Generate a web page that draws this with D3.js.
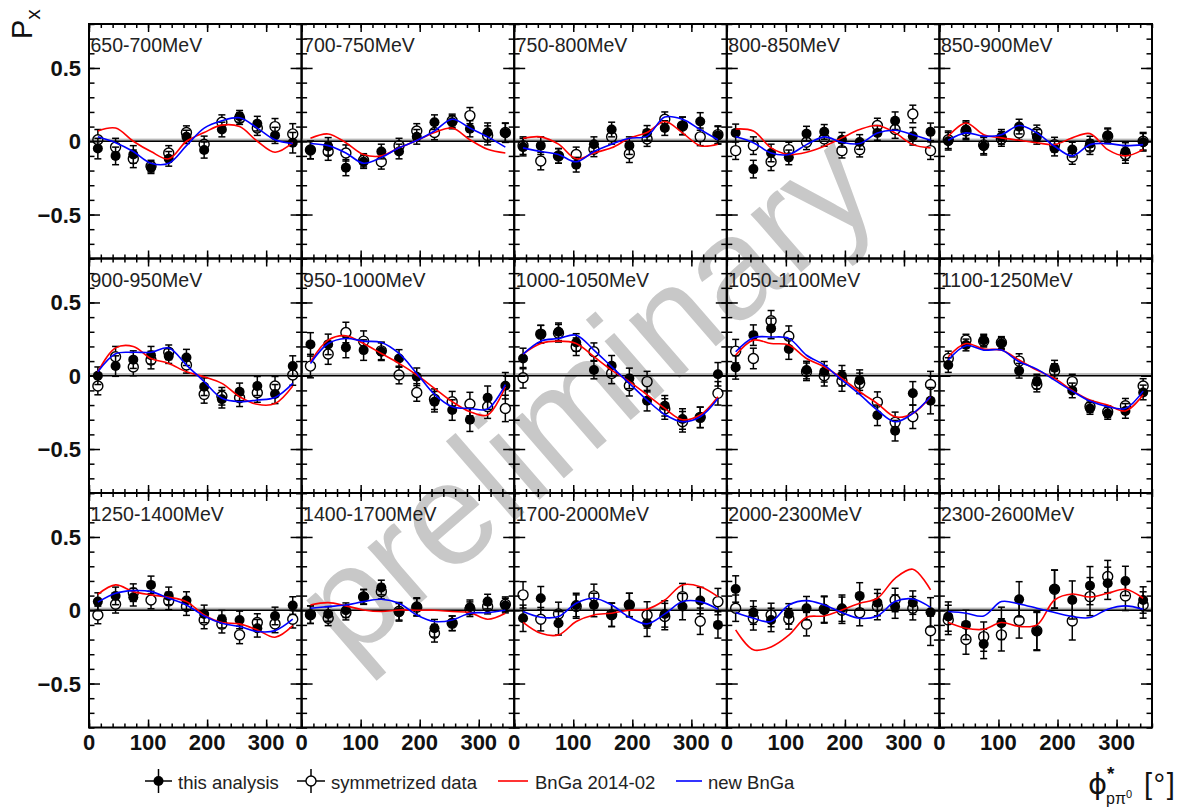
<!DOCTYPE html>
<html>
<head>
<meta charset="utf-8">
<title>Px preliminary</title>
<script src="https://d3js.org/d3.v7.min.js"></script>
<style>
body { margin: 0; background: #fff; }
text { font-family: "Liberation Sans", Arial, sans-serif; }
</style>
</head>
<body>
<div id="container"></div>
<script>
//*******************
// data
//*******************
const phi = [15, 45, 75, 105, 135, 165, 195, 225, 255, 285, 315, 345];

const energyBins = ["650-700MeV", "700-750MeV", "750-800MeV", "800-850MeV", "850-900MeV",
  "900-950MeV", "950-1000MeV", "1000-1050MeV", "1050-1100MeV", "1100-1250MeV",
  "1250-1400MeV", "1400-1700MeV", "1700-2000MeV", "2000-2300MeV", "2300-2600MeV"];

// this analysis (filled points)
const thisAnalysis = [
  [-0.05, -0.10, -0.09, -0.18, -0.12, 0.03, -0.06, 0.08, 0.17, 0.12, 0.04, -0.01],
  [-0.06, -0.035, -0.18, -0.14, -0.07, -0.07, 0.03, 0.13, 0.13, 0.085, 0.06, 0.057],
  [-0.04, -0.03, -0.10, -0.16, -0.02, 0.08, -0.03, 0.057, 0.09, 0.105, 0.135, 0.04],
  [0.057, -0.19, -0.08, -0.11, 0.052, 0.064, 0.01, -0.005, 0.057, 0.14, 0.034, 0.064],
  [0.0, 0.08, -0.034, 0.03, 0.10, 0.03, -0.05, -0.057, -0.016, 0.04, -0.07, -0.007],
  [0.0, 0.066, 0.11, 0.14, 0.134, 0.125, -0.075, -0.16, -0.11, -0.07, -0.125, 0.066],
  [0.214, 0.214, 0.193, 0.175, 0.164, 0.118, -0.007, -0.177, -0.234, -0.30, -0.15, -0.068],
  [0.118, 0.284, 0.30, 0.227, 0.039, 0.068, -0.018, -0.17, -0.205, -0.295, -0.284, 0.01],
  [0.057, 0.277, 0.323, 0.182, 0.039, 0.027, 0.0, -0.03, -0.27, -0.375, -0.12, -0.17],
  [0.073, 0.21, 0.243, 0.22, 0.034, -0.04, 0.055, -0.10, -0.223, -0.257, -0.24, -0.114],
  [0.059, 0.098, 0.089, 0.173, 0.098, 0.066, -0.025, -0.061, -0.066, -0.123, -0.039, 0.032],
  [-0.03, -0.025, 0.0, 0.093, 0.155, -0.014, 0.025, -0.123, -0.089, 0.02, 0.059, 0.032],
  [-0.055, 0.082, -0.089, 0.036, 0.036, -0.032, 0.036, -0.089, -0.025, 0.025, 0.066, -0.10],
  [0.145, -0.016, -0.066, -0.025, 0.014, 0.002, 0.014, 0.098, 0.052, 0.025, 0.052, -0.014],
  [-0.043, -0.10, -0.23, -0.089, 0.075, -0.145, 0.145, 0.07, 0.168, 0.184, 0.20, 0.07]
];

// error bars (same size read for both data sets)
const errors = [
  [0.07, 0.06, 0.06, 0.04, 0.05, 0.045, 0.055, 0.05, 0.04, 0.05, 0.055, 0.07],
  [0.06, 0.06, 0.055, 0.045, 0.05, 0.05, 0.05, 0.05, 0.045, 0.055, 0.065, 0.065],
  [0.06, 0.06, 0.05, 0.05, 0.05, 0.05, 0.06, 0.05, 0.05, 0.06, 0.06, 0.06],
  [0.06, 0.06, 0.06, 0.05, 0.05, 0.05, 0.05, 0.05, 0.05, 0.06, 0.06, 0.06],
  [0.06, 0.06, 0.06, 0.05, 0.05, 0.05, 0.05, 0.05, 0.05, 0.05, 0.06, 0.06],
  [0.06, 0.07, 0.06, 0.06, 0.05, 0.055, 0.06, 0.06, 0.06, 0.065, 0.065, 0.07],
  [0.08, 0.07, 0.07, 0.07, 0.06, 0.06, 0.06, 0.07, 0.07, 0.08, 0.08, 0.09],
  [0.07, 0.06, 0.06, 0.06, 0.06, 0.07, 0.07, 0.07, 0.07, 0.07, 0.07, 0.08],
  [0.08, 0.07, 0.07, 0.07, 0.06, 0.07, 0.07, 0.07, 0.07, 0.07, 0.08, 0.09],
  [0.05, 0.04, 0.04, 0.04, 0.05, 0.05, 0.05, 0.05, 0.04, 0.04, 0.05, 0.05],
  [0.06, 0.06, 0.06, 0.06, 0.06, 0.06, 0.06, 0.06, 0.06, 0.06, 0.06, 0.06],
  [0.06, 0.05, 0.05, 0.05, 0.05, 0.06, 0.06, 0.06, 0.05, 0.05, 0.05, 0.05],
  [0.09, 0.08, 0.08, 0.08, 0.08, 0.08, 0.08, 0.09, 0.09, 0.09, 0.09, 0.09],
  [0.09, 0.08, 0.08, 0.07, 0.08, 0.09, 0.09, 0.09, 0.09, 0.08, 0.08, 0.10],
  [0.10, 0.10, 0.10, 0.11, 0.12, 0.13, 0.13, 0.13, 0.13, 0.11, 0.10, 0.09]
];

// symmetrized data (open points)
const symmetrized = [
  [0.01, -0.04, -0.12, -0.17, -0.08, 0.06, -0.02, 0.13, 0.155, 0.09, 0.10, 0.05],
  [-0.06, -0.07, -0.08, -0.13, -0.14, -0.03, 0.07, 0.06, 0.14, 0.175, 0.04, 0.06],
  [-0.03, -0.135, -0.10, -0.09, -0.055, 0.03, -0.085, 0.015, 0.15, 0.105, 0.03, 0.045],
  [-0.064, -0.03, -0.14, -0.057, -0.007, 0.016, -0.064, -0.057, 0.107, 0.08, 0.186, -0.064],
  [0.01, 0.07, -0.025, 0.016, 0.057, 0.06, -0.023, -0.107, -0.04, 0.034, -0.09, 0.0],
  [-0.07, 0.13, 0.06, 0.107, 0.16, 0.073, -0.127, -0.14, -0.15, -0.116, -0.07, 0.005],
  [0.066, 0.148, 0.295, 0.236, 0.17, 0.005, -0.114, -0.16, -0.177, -0.193, -0.211, -0.223],
  [-0.014, 0.284, 0.29, 0.198, 0.164, 0.016, -0.068, -0.04, -0.227, -0.314, -0.284, -0.12],
  [0.168, 0.118, 0.375, 0.27, 0.027, 0.0, -0.036, -0.052, -0.18, -0.318, -0.28, -0.06],
  [0.118, 0.243, 0.236, 0.227, 0.10, -0.06, 0.032, -0.04, -0.21, -0.245, -0.205, -0.07],
  [-0.032, 0.041, 0.12, 0.07, 0.064, 0.025, -0.066, -0.095, -0.168, -0.084, -0.093, -0.061],
  [-0.03, -0.055, -0.016, 0.09, 0.127, -0.007, 0.02, -0.157, -0.089, 0.007, 0.025, 0.041],
  [0.105, -0.061, -0.025, 0.025, 0.098, -0.03, 0.036, -0.032, -0.043, 0.093, -0.075, 0.059],
  [0.014, -0.055, -0.032, -0.059, -0.095, 0.007, 0.0, -0.016, 0.025, 0.07, 0.014, -0.14],
  [-0.066, -0.20, -0.18, -0.168, -0.07, -0.14, 0.143, -0.073, 0.093, 0.23, 0.098, 0.036]
];

// BnGa 2014-02 curve, read at the phi bins
const bnga2014 = [
  [0.07, 0.09, 0.0, -0.07, -0.12, 0.0, 0.06, 0.11, 0.10, 0.0, -0.075, -0.01],
  [0.02, 0.05, -0.01, -0.09, -0.10, -0.045, 0.005, 0.06, 0.09, 0.01, -0.055, -0.08],
  [0.02, 0.03, -0.02, -0.12, -0.08, -0.045, 0.02, 0.06, 0.135, 0.057, -0.03, -0.02],
  [0.084, 0.07, -0.045, -0.09, -0.075, -0.034, 0.023, 0.08, 0.107, 0.057, -0.023, -0.045],
  [0.034, 0.125, 0.045, 0.023, 0.007, -0.01, -0.023, 0.023, 0.052, -0.057, -0.10, -0.057],
  [0.027, 0.19, 0.20, 0.118, 0.084, 0.027, -0.007, -0.052, -0.143, -0.195, -0.19, -0.07],
  [0.095, 0.243, 0.273, 0.22, 0.152, 0.084, 0.005, -0.086, -0.177, -0.245, -0.268, -0.075],
  [0.148, 0.22, 0.236, 0.22, 0.13, 0.039, -0.04, -0.13, -0.223, -0.30, -0.268, -0.143],
  [0.14, 0.243, 0.22, 0.21, 0.118, 0.061, -0.018, -0.109, -0.19, -0.28, -0.257, -0.143],
  [0.13, 0.22, 0.182, 0.175, 0.107, 0.039, -0.018, -0.10, -0.166, -0.20, -0.24, -0.13],
  [0.109, 0.173, 0.127, 0.105, 0.089, 0.059, -0.032, -0.084, -0.093, -0.134, -0.184, -0.105],
  [0.036, 0.052, 0.03, 0.002, -0.009, 0.002, 0.0, 0.0, -0.009, -0.016, -0.061, -0.02],
  [-0.082, -0.157, -0.168, -0.077, -0.032, -0.02, 0.0, 0.007, 0.07, 0.173, 0.161, 0.093],
  [-0.134, -0.27, -0.25, -0.17, -0.048, -0.039, 0.002, 0.048, 0.082, 0.218, 0.28, 0.139],
  [-0.084, -0.123, -0.13, -0.084, -0.11, -0.10, 0.07, 0.111, 0.09, 0.116, 0.143, 0.082]
];

// new BnGa curve, read at the phi bins
const newBnga = [
  [0.03, -0.01, -0.07, -0.15, -0.15, -0.03, 0.09, 0.14, 0.16, 0.09, 0.01, -0.016],
  [-0.015, -0.03, -0.08, -0.15, -0.11, -0.045, 0.005, 0.07, 0.15, 0.09, 0.03, -0.04],
  [-0.045, -0.07, -0.09, -0.14, -0.07, -0.02, 0.02, 0.035, 0.165, 0.15, 0.08, 0.01],
  [0.03, -0.01, -0.08, -0.09, -0.023, 0.03, -0.007, -0.016, 0.057, 0.075, 0.045, 0.007],
  [0.007, 0.057, 0.034, 0.045, 0.107, 0.057, -0.034, -0.10, -0.023, -0.016, -0.03, -0.023],
  [0.027, 0.15, 0.16, 0.16, 0.19, 0.073, -0.04, -0.154, -0.177, -0.166, -0.148, -0.052],
  [0.084, 0.22, 0.254, 0.236, 0.227, 0.152, 0.016, -0.127, -0.211, -0.223, -0.227, -0.06],
  [0.148, 0.236, 0.254, 0.277, 0.175, 0.061, -0.052, -0.166, -0.264, -0.314, -0.28, -0.155],
  [0.164, 0.26, 0.264, 0.255, 0.14, 0.073, -0.03, -0.127, -0.234, -0.314, -0.257, -0.143],
  [0.107, 0.205, 0.175, 0.175, 0.095, 0.045, -0.03, -0.105, -0.173, -0.211, -0.223, -0.105],
  [0.055, 0.116, 0.134, 0.127, 0.082, 0.036, -0.039, -0.089, -0.111, -0.145, -0.139, -0.061],
  [0.014, 0.025, 0.036, 0.059, 0.075, 0.048, -0.032, -0.077, -0.066, -0.02, -0.016, 0.0],
  [-0.009, -0.048, -0.043, 0.048, 0.082, 0.036, -0.048, -0.093, -0.025, 0.059, 0.059, 0.007],
  [-0.016, -0.055, -0.077, 0.036, 0.066, 0.036, -0.016, -0.055, -0.039, 0.059, 0.077, 0.02],
  [-0.009, -0.02, -0.039, 0.059, 0.043, 0.014, -0.016, -0.043, -0.05, 0.007, 0.03, 0.007]
];

const xTickValues = [0, 100, 200, 300];
const yTickValues = [-0.5, 0, 0.5];
const yTickLabels = ["\u22120.5", "0", "0.5"];
const legendLabels = ["this analysis", "symmetrized data", "BnGa 2014-02", "new BnGa"];

//*******************
// setup svg
//*******************
const width = 1185, height = 811;
const plotLeft = 89, plotTop = 24, pw = 212.6, ph = 234.5;
const ncol = 5;

const svg = d3.select("#container").append("svg")
  .attr("width", width)
  .attr("height", height);

svg.append("rect").attr("width", width).attr("height", height).attr("fill", "#fff");

const x = d3.scaleLinear().domain([0, 360]).range([0, pw]);
const y = d3.scaleLinear().domain([-0.8, 0.8]).range([ph, 0]);

const yMinor = d3.range(-8, 9).map(v => v / 10);
const xMinor = d3.range(0, 361, 20);

// watermark, behind everything
svg.append("text")
  .attr("transform", "translate(617,432) rotate(-41)")
  .attr("text-anchor", "middle")
  .style("font-size", "145px")
  .attr("fill", "#c8c8c8")
  .text("preliminary");

const curve = d3.line()
  .x((d, i) => x(phi[i]))
  .y(d => y(d))
  .curve(d3.curveCatmullRom.alpha(0.5));

const R = 5;   // marker radius
const cap = 3.5;

function tickAxis(g, axis, vals, size) {
  g.call(axis.tickValues(vals).tickSize(size).tickFormat(""))
    .call(a => a.select(".domain").remove())
    .selectAll("line").attr("stroke", "#000").attr("stroke-width", 1.5);
}

//*******************
// draw panels
//*******************
energyBins.forEach(function(label, k) {
  const col = k % ncol, row = Math.floor(k / ncol);
  const g = svg.append("g")
    .attr("transform", "translate(" + (plotLeft + col * pw) + "," + (plotTop + row * ph) + ")");

  // gray band + zero line
  g.append("rect")
    .attr("x", 0).attr("width", pw)
    .attr("y", y(0.018)).attr("height", y(0) - y(0.018))
    .attr("fill", "#b9b9b9");
  g.append("line")
    .attr("x1", 0).attr("x2", pw)
    .attr("y1", y(0)).attr("y2", y(0))
    .attr("stroke", "#000").attr("stroke-width", 1.6);

  // ticks on all four sides, pointing inward
  tickAxis(g.append("g"), d3.axisRight(y), yMinor, 5.5);
  tickAxis(g.append("g"), d3.axisRight(y), yTickValues, 11);
  tickAxis(g.append("g").attr("transform", "translate(" + pw + ",0)"), d3.axisLeft(y), yMinor, 5.5);
  tickAxis(g.append("g").attr("transform", "translate(" + pw + ",0)"), d3.axisLeft(y), yTickValues, 11);
  tickAxis(g.append("g"), d3.axisBottom(x), xMinor, 4);
  tickAxis(g.append("g"), d3.axisBottom(x), xTickValues, 8);
  tickAxis(g.append("g").attr("transform", "translate(0," + ph + ")"), d3.axisTop(x), xMinor, 4);
  tickAxis(g.append("g").attr("transform", "translate(0," + ph + ")"), d3.axisTop(x), xTickValues, 8);

  const err = errors[k];

  // filled points with error bars
  const filled = g.append("g");
  thisAnalysis[k].forEach(function(v, i) {
    const cx = x(phi[i]), y1 = y(v + err[i]), y2 = y(v - err[i]);
    filled.append("line").attr("x1", cx).attr("x2", cx).attr("y1", y1).attr("y2", y2)
      .attr("stroke", "#000").attr("stroke-width", 1.5);
    [y1, y2].forEach(yy => filled.append("line")
      .attr("x1", cx - cap).attr("x2", cx + cap).attr("y1", yy).attr("y2", yy)
      .attr("stroke", "#000").attr("stroke-width", 1.5));
    filled.append("circle").attr("cx", cx).attr("cy", y(v)).attr("r", R).attr("fill", "#000");
  });

  // open points (symmetrized)
  const open = g.append("g");
  symmetrized[k].forEach(function(v, i) {
    const cx = x(phi[i]), cy = y(v), y1 = y(v + err[i]), y2 = y(v - err[i]);
    open.append("line").attr("x1", cx).attr("x2", cx).attr("y1", y1).attr("y2", cy - R)
      .attr("stroke", "#000").attr("stroke-width", 1.5);
    open.append("line").attr("x1", cx).attr("x2", cx).attr("y1", cy + R).attr("y2", y2)
      .attr("stroke", "#000").attr("stroke-width", 1.5);
    [y1, y2].forEach(yy => open.append("line")
      .attr("x1", cx - cap).attr("x2", cx + cap).attr("y1", yy).attr("y2", yy)
      .attr("stroke", "#000").attr("stroke-width", 1.5));
    open.append("circle").attr("cx", cx).attr("cy", cy).attr("r", R)
      .attr("fill", "none").attr("stroke", "#000").attr("stroke-width", 1.4);
  });

  // model curves
  g.append("path").attr("d", curve(bnga2014[k]))
    .attr("fill", "none").attr("stroke", "#ff0000").attr("stroke-width", 1.6);
  g.append("path").attr("d", curve(newBnga[k]))
    .attr("fill", "none").attr("stroke", "#0000ff").attr("stroke-width", 1.6);

  // frame
  g.append("rect").attr("width", pw).attr("height", ph)
    .attr("fill", "none").attr("stroke", "#000").attr("stroke-width", 2);

  // energy bin label
  g.append("text")
    .attr("x", 1.5).attr("y", 28)
    .style("font-size", "19.5px")
    .attr("fill", "#222")
    .text(label);

  // y tick labels on the first column
  if (col === 0) {
    yTickValues.forEach(function(v, j) {
      g.append("text")
        .attr("x", -8).attr("y", y(v) + 8)
        .attr("text-anchor", "end")
        .style("font-size", "22px").style("font-weight", "bold")
        .attr("fill", "#111")
        .text(yTickLabels[j]);
    });
  }
  // x tick labels on the last row
  if (row === 2) {
    xTickValues.forEach(function(v) {
      g.append("text")
        .attr("x", x(v)).attr("y", ph + 22)
        .attr("text-anchor", "middle")
        .style("font-size", "22px").style("font-weight", "bold")
        .attr("fill", "#111")
        .text(v);
    });
  }
});

//*******************
// axis titles
//*******************
const yTitle = svg.append("text")
  .attr("transform", "translate(32,39) rotate(-90)")
  .style("font-size", "29px")
  .attr("fill", "#111");
yTitle.append("tspan").text("P");
yTitle.append("tspan").attr("dy", 8).style("font-size", "21px").text("x");

const xt = svg.append("g").attr("fill", "#111");
xt.append("text").attr("x", 1088).attr("y", 794).style("font-size", "29px")
  .style("font-family", "DejaVu Sans").text("\u03D5");
xt.append("text").attr("x", 1107).attr("y", 780).style("font-size", "19px")
  .style("font-weight", "bold").text("*");
const sub = xt.append("text").attr("x", 1106).attr("y", 804).style("font-size", "16px");
sub.append("tspan").text("p\u03C0");
sub.append("tspan").attr("dy", -6).style("font-size", "11px").text("0");
xt.append("text").attr("x", 1144).attr("y", 794).style("font-size", "29px")
  .style("letter-spacing", "1.5px").text("[\u00B0]");

//*******************
// legend
//*******************
const ly = 781;
const leg = svg.append("g");

// this analysis
leg.append("line").attr("x1", 145).attr("x2", 172).attr("y1", ly).attr("y2", ly).attr("stroke", "#000").attr("stroke-width", 1.5);
leg.append("line").attr("x1", 158.5).attr("x2", 158.5).attr("y1", ly - 12).attr("y2", ly + 12).attr("stroke", "#000").attr("stroke-width", 1.5);
leg.append("circle").attr("cx", 158.5).attr("cy", ly).attr("r", R).attr("fill", "#000");

// symmetrized
leg.append("line").attr("x1", 297).attr("x2", 311 - R).attr("y1", ly).attr("y2", ly).attr("stroke", "#000").attr("stroke-width", 1.5);
leg.append("line").attr("x1", 311 + R).attr("x2", 325).attr("y1", ly).attr("y2", ly).attr("stroke", "#000").attr("stroke-width", 1.5);
leg.append("line").attr("x1", 311).attr("x2", 311).attr("y1", ly - 12).attr("y2", ly + 12).attr("stroke", "#000").attr("stroke-width", 1.5);
leg.append("circle").attr("cx", 311).attr("cy", ly).attr("r", R).attr("fill", "#fff").attr("stroke", "#000").attr("stroke-width", 1.4);

// curves
leg.append("line").attr("x1", 498).attr("x2", 528).attr("y1", ly).attr("y2", ly).attr("stroke", "#ff0000").attr("stroke-width", 1.6);
leg.append("line").attr("x1", 676).attr("x2", 702).attr("y1", ly).attr("y2", ly).attr("stroke", "#0000ff").attr("stroke-width", 1.6);

const legX = [178, 331, 535, 708];
legendLabels.forEach(function(t, i) {
  leg.append("text").attr("x", legX[i]).attr("y", 789)
    .style("font-size", "18.5px").attr("fill", "#222").text(t);
});
</script>
</body>
</html>
